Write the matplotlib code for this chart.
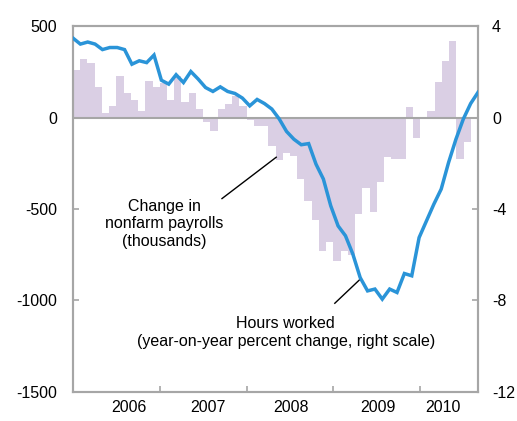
import numpy as np
import matplotlib
matplotlib.use('Agg')
import matplotlib.pyplot as plt

plt.rcParams['font.family'] = ['Liberation Sans', 'DejaVu Sans']

# Monthly change in nonfarm payrolls (thousands), Jan 2006 - Jul 2010
payrolls = [260, 318, 300, 167, 27, 64, 227, 136, 95, 36, 200, 167,
            188, 95, 227, 85, 136, 46, -22, -73, 46, 76, 115, 64,
            -12, -49, -45, -155, -233, -196, -213, -336, -455, -560, -727, -682,
            -782, -731, -750, -527, -387, -518, -351, -218, -227, -227, 55, -113,
            5, 36, 196, 309, 418, -224, -133]

# Hours worked, year-on-year percent change, Jan 2006 - Aug 2010
hours = [3.47, 3.21, 3.30, 3.21, 2.97, 3.06, 3.06, 2.97, 2.33, 2.48, 2.40, 2.73,
         1.63, 1.46, 1.87, 1.53, 2.01, 1.68, 1.31, 1.14, 1.34, 1.14, 1.05, 0.85,
         0.51, 0.79, 0.61, 0.37, -0.06, -0.61, -0.95, -1.19, -1.14, -2.04, -2.69, -3.86,
         -4.74, -5.17, -5.97, -7.0, -7.58, -7.50, -7.94, -7.50, -7.65, -6.82, -6.92, -5.25,
         -4.52, -3.79, -3.13, -1.97, -0.95, -0.07, 0.61, 1.1]

years = ['2006', '2007', '2008', '2009', '2010']
left_ticks = [500, 0, -500, -1000, -1500]
right_ticks = [4, 0, -4, -8, -12]

grey = '#a6a6a6'
bar_col = '#dacfe4'
line_col = '#2a94d8'
fs = 11.5

fig = plt.figure(figsize=(5.17, 4.21), dpi=100)
ax = fig.add_axes([0.1412, 0.0689, 0.7834, 0.8693])

n_months = 56
ax.bar(np.arange(len(payrolls)), payrolls, width=1.0, align='edge',
       color=bar_col, linewidth=0, zorder=1)
ax.axhline(0, color=grey, linewidth=1.5, zorder=2)
ax.set_xlim(0, n_months)
ax.set_ylim(-1500, 500)
ax.set_yticks(left_ticks)
ax.set_yticklabels([str(v) for v in left_ticks], fontsize=fs)

# year boundaries as ticks, labels in between
ax.set_xticks([0, 12, 24, 36, 48])
ax.set_xticklabels([])
ax.set_xticks([7.8, 18.6, 30.1, 42.1, 51.2], minor=True)
ax.set_xticklabels(years, minor=True, fontsize=fs)
ax.tick_params(axis='x', which='minor', length=0, pad=6)
ax.tick_params(axis='x', which='major', direction='in', length=4, color=grey, width=1.2)
ax.tick_params(axis='y', direction='in', length=4, color=grey, width=1.2, pad=11.5)

for s in ax.spines.values():
    s.set_color(grey)
    s.set_linewidth(1.5)

# right scale for hours worked
ax2 = ax.twinx()
ax2.set_ylim(-12, 4)
ax2.set_yticks(right_ticks)
ax2.set_yticklabels([str(v) for v in right_ticks], fontsize=fs)
ax2.tick_params(axis='y', direction='in', length=4, color=grey, width=1.2, pad=10)
for s in ax2.spines.values():
    s.set_color(grey)
    s.set_linewidth(1.5)

ax3 = ax2.twiny()
ax3.set_xlim(0, len(hours) - 1)
ax3.plot(np.arange(len(hours)), hours, color=line_col, linewidth=2.5,
         solid_joinstyle='miter', zorder=3)
ax3.set_xticks([])
for s in ax3.spines.values():
    s.set_visible(False)

# annotations
ax.text(12.6, -580, 'Change in\nnonfarm payrolls\n(thousands)', ha='center', va='center',
        fontsize=fs, linespacing=1.2)
ax.plot([20.6, 28.1], [-443, -217], color='black', linewidth=1)
ax.text(29.4, -1175, 'Hours worked\n(year-on-year percent change, right scale)',
        ha='center', va='center', fontsize=fs, linespacing=1.2)
ax.plot([36.2, 39.75], [-1015, -882], color='black', linewidth=1)

fig.savefig('out.png', dpi=100)
